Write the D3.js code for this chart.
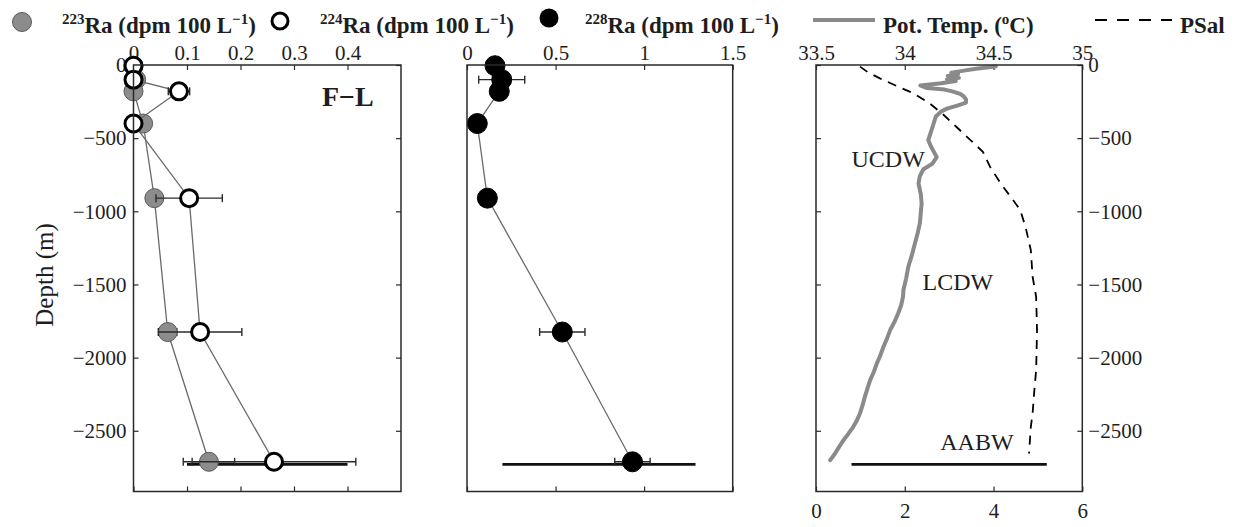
<!DOCTYPE html>
<html>
<head>
<meta charset="utf-8">
<script src="https://cdn.jsdelivr.net/npm/d3@7"></script>
<style>
  html, body { margin: 0; padding: 0; background: #fff; }
  svg { display: block; }
  text { font-family: "Liberation Serif", "Times New Roman", serif; fill: #1e1e1e; }
</style>
</head>
<body>
<svg id="chart" width="1242" height="527"></svg>
<script>
// Sample depths (m) for the radium profiles
const sampleDepth = [-5, -100, -180, -400, -910, -1825, -2712];

// 223Ra and 224Ra activities (dpm 100 L^-1) with 1-sigma uncertainties
const ra223    = [0.0, 0.005, 0.0, 0.018, 0.039, 0.064, 0.141];
const ra223Err = [0, 0, 0, 0, 0.005, 0.017, 0.048];
const ra224    = [0.0, 0.0, 0.085, 0.0, 0.104, 0.1245, 0.2626];
const ra224Err = [0, 0, 0.02, 0, 0.062, 0.078, 0.153];

// 228Ra activities (dpm 100 L^-1) with uncertainties
const ra228    = [0.158, 0.196, 0.182, 0.058, 0.115, 0.538, 0.934];
const ra228Err = [0, 0.13, 0, 0, 0, 0.128, 0.10];

// Bottom-water marker bars (depth and extent in each panel's units)
const bottomDepth = -2730;
const bottomBarRa224 = [0.1, 0.4];
const bottomBarRa228 = [0.2, 1.29];
const bottomBarTemp  = [0.8, 5.2];

// CTD potential temperature profile (°C)
const tempDepth = [-10, -25, -40, -52, -63, -75, -88, -99, -110, -125, -140, -158, -168, -180,
  -198, -215, -235, -257, -276, -298, -318, -352, -420, -513, -550, -590, -630, -675, -712, -760,
  -810, -880, -946, -1015, -1082, -1150, -1219, -1300, -1379, -1460, -1538, -1584, -1640, -1698,
  -1755, -1812, -1870, -1926, -1985, -2040, -2100, -2154, -2210, -2268, -2325, -2382, -2430,
  -2473, -2520, -2564, -2610, -2655, -2701];
const tempVal = [4.05, 3.6, 3.30, 3.05, 3.20, 2.97, 3.22, 2.95, 3.15, 2.82, 2.35, 2.5, 2.9, 3.07,
  3.25, 3.33, 3.38, 3.38, 3.2, 2.95, 2.82, 2.70, 2.63, 2.53, 2.58, 2.65, 2.72, 2.62, 2.42, 2.34,
  2.31, 2.36, 2.38, 2.36, 2.34, 2.29, 2.23, 2.16, 2.08, 2.03, 1.97, 1.96, 1.92, 1.85,
  1.77, 1.67, 1.60, 1.52, 1.45, 1.37, 1.30, 1.22, 1.16, 1.10, 1.05, 0.99, 0.92,
  0.84, 0.73, 0.62, 0.52, 0.43, 0.32];

// CTD practical salinity profile
const salDepth = [-11, -52, -91, -144, -194, -262, -342, -422, -513, -593, -695, -809, -923,
  -991, -1105, -1265, -1447, -1584, -1812, -2085, -2222, -2382, -2473, -2655];
const salVal = [33.748, 33.795, 33.86, 33.955, 34.05, 34.14, 34.22, 34.29, 34.37, 34.44, 34.48,
  34.54, 34.61, 34.65, 34.68, 34.71, 34.72, 34.74, 34.745, 34.74, 34.73, 34.72, 34.71, 34.70];

// Axis ticks
const depthTicks = [0, -500, -1000, -1500, -2000, -2500];
const ra224Ticks = [0, 0.1, 0.2, 0.3, 0.4];
const ra228Ticks = [0, 0.5, 1, 1.5];
const salTicks   = [33.5, 34, 34.5, 35];
const tempTicks  = [0, 2, 4, 6];

// Water-mass labels
const waterMasses = ["UCDW", "LCDW", "AABW"];
const waterMassDepth = [-700, -1540, -2630];
const waterMassTemp = [0.8, 2.4, 2.8];

const svg = d3.select("#chart");
const plotTop = 65, plotBottom = 491.5;
const frameColor = "#2a2a2a";
const tickFont = "21px";

const y = d3.scaleLinear().domain([-2915, 0]).range([plotBottom, plotTop]);

const xL = d3.scaleLinear().domain([0, 0.5]).range([133.5, 401]);
const xM = d3.scaleLinear().domain([0, 1.5]).range([467, 732.7]);
const xS = d3.scaleLinear().domain([33.5, 35]).range([816, 1082.3]);
const xT = d3.scaleLinear().domain([0, 6]).range([816, 1082.3]);

const fmt = d => d3.format("")(d).replace("-", "\u2212");

function styleAxis(g, showLabels) {
  g.select(".domain").remove();
  g.selectAll(".tick line").attr("stroke", frameColor).attr("stroke-width", 1.2);
  g.selectAll(".tick text").style("font-size", tickFont).attr("fill", "#1e1e1e");
  if (!showLabels) g.selectAll(".tick text").remove();
}

function frame(x0, x1) {
  svg.append("rect")
    .attr("x", x0).attr("y", plotTop)
    .attr("width", x1 - x0).attr("height", plotBottom - plotTop)
    .attr("fill", "none").attr("stroke", frameColor).attr("stroke-width", 1.5);
}

// ---------- Panel 1: 223Ra / 224Ra ----------
svg.append("g").attr("transform", `translate(0,${plotTop})`)
  .call(d3.axisTop(xL).tickValues(ra224Ticks).tickFormat(fmt).tickSize(-5).tickPadding(5))
  .call(g => styleAxis(g, true));
svg.append("g").attr("transform", `translate(0,${plotBottom})`)
  .call(d3.axisBottom(xL).tickValues(ra224Ticks).tickSize(-5))
  .call(g => styleAxis(g, false));
svg.append("g").attr("transform", `translate(${xL.range()[0]},0)`)
  .call(d3.axisLeft(y).tickValues(depthTicks).tickFormat(fmt).tickSize(-5).tickPadding(7))
  .call(g => styleAxis(g, true));
svg.append("g").attr("transform", `translate(${xL.range()[1]},0)`)
  .call(d3.axisRight(y).tickValues(depthTicks).tickSize(-5))
  .call(g => styleAxis(g, false));

function drawSeries(xs, vals, errs, opts) {
  const pts = vals.map((v, i) => ({ v, d: sampleDepth[i], e: errs[i] }));
  svg.append("path")
    .datum(pts)
    .attr("fill", "none").attr("stroke", "#6a6a6a").attr("stroke-width", 1.3)
    .attr("d", d3.line().x(p => xs(p.v)).y(p => y(p.d)));
  const eb = svg.append("g").attr("stroke", "#2a2a2a").attr("stroke-width", 1.4);
  pts.filter(p => p.e > 0).forEach(p => {
    const yy = y(p.d), xa = xs(p.v - p.e), xb = xs(p.v + p.e);
    eb.append("line").attr("x1", xa).attr("x2", xb).attr("y1", yy).attr("y2", yy);
    eb.append("line").attr("x1", xa).attr("x2", xa).attr("y1", yy - 4).attr("y2", yy + 4);
    eb.append("line").attr("x1", xb).attr("x2", xb).attr("y1", yy - 4).attr("y2", yy + 4);
  });
  svg.append("g").selectAll("circle").data(pts).join("circle")
    .attr("cx", p => xs(p.v)).attr("cy", p => y(p.d)).attr("r", opts.r)
    .attr("fill", opts.fill).attr("stroke", opts.stroke).attr("stroke-width", opts.sw);
}

// bottom marker bar, left panel
svg.append("line")
  .attr("x1", xL(bottomBarRa224[0])).attr("x2", xL(bottomBarRa224[1]))
  .attr("y1", y(bottomDepth)).attr("y2", y(bottomDepth))
  .attr("stroke", "#111").attr("stroke-width", 2.8);

drawSeries(xL, ra223, ra223Err, { r: 9.5, fill: "#8c8c8c", stroke: "#5a5a5a", sw: 1 });
drawSeries(xL, ra224, ra224Err, { r: 8.5, fill: "#fff", stroke: "#000", sw: 3 });
frame(133.5, 401);

svg.append("text").attr("x", 322).attr("y", 106)
  .style("font-size", "28px").style("font-weight", "bold").text("F\u2212L");

svg.append("text")
  .attr("transform", "translate(53,275) rotate(-90)")
  .attr("text-anchor", "middle")
  .style("font-size", "25px")
  .text("Depth (m)");

// ---------- Panel 2: 228Ra ----------
svg.append("g").attr("transform", `translate(0,${plotTop})`)
  .call(d3.axisTop(xM).tickValues(ra228Ticks).tickFormat(fmt).tickSize(-5).tickPadding(5))
  .call(g => styleAxis(g, true));
svg.append("g").attr("transform", `translate(0,${plotBottom})`)
  .call(d3.axisBottom(xM).tickValues(ra228Ticks).tickSize(-5))
  .call(g => styleAxis(g, false));

svg.append("line")
  .attr("x1", xM(bottomBarRa228[0])).attr("x2", xM(bottomBarRa228[1]))
  .attr("y1", y(bottomDepth)).attr("y2", y(bottomDepth))
  .attr("stroke", "#111").attr("stroke-width", 2.8);

drawSeries(xM, ra228, ra228Err, { r: 10, fill: "#000", stroke: "#000", sw: 1 });
frame(467, 732.7);

// ---------- Panel 3: CTD ----------
svg.append("g").attr("transform", `translate(0,${plotTop})`)
  .call(d3.axisTop(xS).tickValues(salTicks).tickFormat(fmt).tickSize(-5).tickPadding(5))
  .call(g => styleAxis(g, true));
svg.append("g").attr("transform", `translate(0,${plotBottom})`)
  .call(d3.axisBottom(xT).tickValues(tempTicks).tickFormat(fmt).tickSize(-5).tickPadding(12))
  .call(g => styleAxis(g, true));
svg.append("g").attr("transform", `translate(${xT.range()[0]},0)`)
  .call(d3.axisLeft(y).tickValues(depthTicks).tickSize(-5))
  .call(g => styleAxis(g, false));
svg.append("g").attr("transform", `translate(${xT.range()[1]},0)`)
  .call(d3.axisRight(y).tickValues(depthTicks).tickFormat(fmt).tickSize(-5).tickPadding(6))
  .call(g => styleAxis(g, true));

svg.append("path")
  .datum(d3.zip(salVal, salDepth))
  .attr("fill", "none").attr("stroke", "#000").attr("stroke-width", 1.8)
  .attr("stroke-dasharray", "9,7")
  .attr("d", d3.line().x(p => xS(p[0])).y(p => y(p[1])));

svg.append("path")
  .datum(d3.zip(tempVal, tempDepth))
  .attr("fill", "none").attr("stroke", "#8a8a8a").attr("stroke-width", 4)
  .attr("stroke-linejoin", "round").attr("stroke-linecap", "round")
  .attr("d", d3.line().x(p => xT(p[0])).y(p => y(p[1])));

svg.append("line")
  .attr("x1", xT(bottomBarTemp[0])).attr("x2", xT(bottomBarTemp[1]))
  .attr("y1", y(bottomDepth)).attr("y2", y(bottomDepth))
  .attr("stroke", "#111").attr("stroke-width", 2.8);

svg.append("g").selectAll("text").data(waterMasses).join("text")
  .attr("x", (d, i) => xT(waterMassTemp[i]))
  .attr("y", (d, i) => y(waterMassDepth[i]))
  .style("font-size", "24px")
  .text(d => d);

frame(816, 1082.3);

// ---------- Legend ----------
const leg = svg.append("g");
leg.append("circle").attr("cx", 22).attr("cy", 22).attr("r", 9.5)
  .attr("fill", "#8c8c8c").attr("stroke", "#5a5a5a").attr("stroke-width", 1);
leg.append("circle").attr("cx", 280).attr("cy", 21).attr("r", 8)
  .attr("fill", "#fff").attr("stroke", "#000").attr("stroke-width", 3);
leg.append("circle").attr("cx", 549).attr("cy", 18).attr("r", 9.5)
  .attr("fill", "#000");
leg.append("line").attr("x1", 813).attr("x2", 875).attr("y1", 20).attr("y2", 20)
  .attr("stroke", "#8a8a8a").attr("stroke-width", 4);
leg.append("line").attr("x1", 1095).attr("x2", 1172).attr("y1", 20).attr("y2", 20)
  .attr("stroke", "#000").attr("stroke-width", 2).attr("stroke-dasharray", "12,10");

function raLabel(x, iso) {
  const t = leg.append("text").attr("x", x).attr("y", 33)
    .style("font-size", "23px").style("font-weight", "bold");
  t.append("tspan").attr("dy", -9).style("font-size", "15px").text(iso);
  t.append("tspan").attr("dy", 9).text("Ra (dpm 100 L");
  t.append("tspan").attr("dy", -9).style("font-size", "15px").text("\u22121");
  t.append("tspan").attr("dy", 9).text(")");
}
raLabel(62, "223");
raLabel(320, "224");
raLabel(585, "228");

const tt = leg.append("text").attr("x", 883).attr("y", 33)
  .style("font-size", "23px").style("font-weight", "bold");
tt.append("tspan").text("Pot. Temp. (");
tt.append("tspan").attr("dy", -9).style("font-size", "15px").text("o");
tt.append("tspan").attr("dy", 9).text("C)");

leg.append("text").attr("x", 1180).attr("y", 33)
  .style("font-size", "23px").style("font-weight", "bold").text("PSal");
</script>
</body>
</html>
